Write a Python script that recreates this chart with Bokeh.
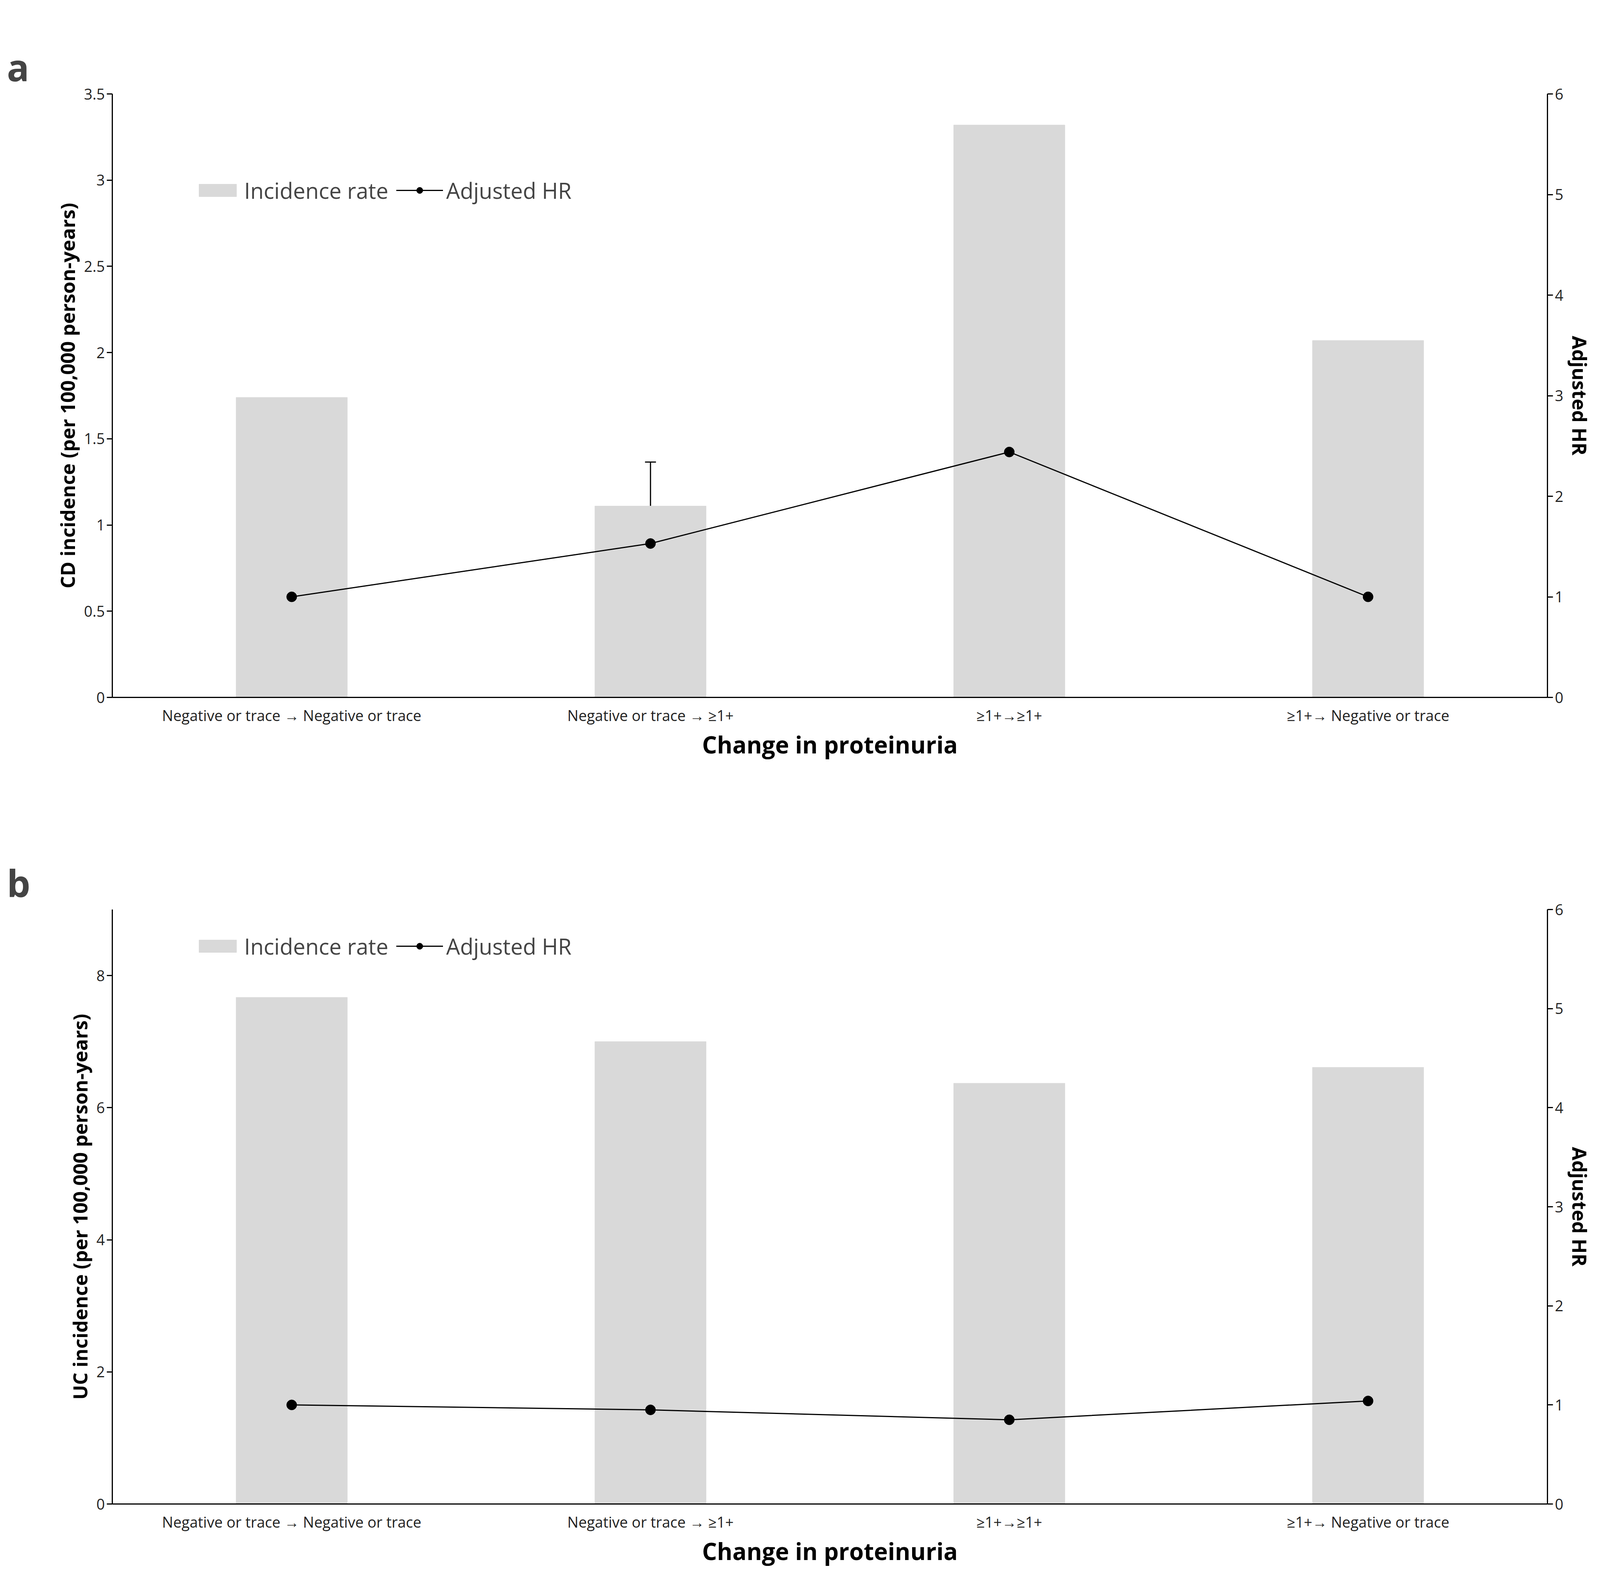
from bokeh.plotting import figure
from bokeh.models import Range1d, LinearAxis, FactorRange, ColumnDataSource, Whisker, TeeHead, Legend, LegendItem
from bokeh.layouts import column
from bokeh.embed import file_html
from bokeh.resources import INLINE
from bokeh.core.properties import value

cats = ["Negative or trace \u2192 Negative or trace", "Negative or trace \u2192 \u22651+", "\u22651+\u2192\u22651+", "\u22651+\u2192 Negative or trace"]
cd_rate = [1.74, 1.11, 3.32, 2.07]
cd_hr = [1.0, 1.53, 2.44, 1.0]
cd_lo = [1.0, 1.01, 1.09, 0.51]
cd_hi = [1.0, 2.34, 5.45, 1.91]
uc_rate = [7.67, 7.0, 6.37, 6.61]
uc_hr = [1.0, 0.95, 0.85, 1.04]
uc_lo = [1.0, 0.75, 0.46, 0.77]
uc_hi = [1.0, 1.22, 1.58, 1.40]

FONT = "Open Sans"

def panel(letter, rate, hr, lo, hi, ymax, ylabel, h, btop, bbot, star, legy):
    p = figure(x_range=FactorRange(*cats, range_padding=0), y_range=Range1d(0, ymax),
               width=4136, height=h, output_backend="svg", toolbar_location=None,
               min_border_left=287, min_border_right=175, min_border_top=btop, min_border_bottom=bbot)
    p.title.text = letter
    p.title.text_font = FONT
    p.title.text_font_size = "95px"
    p.title.text_font_style = "bold"
    p.title.offset = -270
    p.extra_y_ranges = {"hr": Range1d(0, 6)}
    src = ColumnDataSource(dict(c=cats, rate=rate, hr=hr, lo=lo, hi=hi))
    bars = p.vbar(x="c", top="rate", width=0.31, color="#d9d9d9", source=src)
    ln = p.line(x="c", y="hr", line_color="black", line_width=3, y_range_name="hr", source=src)
    pts = p.scatter(x="c", y="hr", size=26, color="black", y_range_name="hr", source=src)
    w = Whisker(base="c", lower="lo", upper="hi", source=src, y_range_name="hr", line_width=3,
                upper_head=TeeHead(size=28, line_width=3), lower_head=TeeHead(size=28, line_width=3))
    p.add_layout(w)
    if star:
        p.text(x=[cats[2]], y=[3.42], text=["*"], text_font=value(FONT), text_font_size="80px",
               text_align="center", text_baseline="bottom")
    leg = Legend(items=[LegendItem(label="Incidence rate", renderers=[bars]),
                        LegendItem(label="Adjusted HR", renderers=[ln, pts])],
                 orientation="horizontal", location=(200, legy), border_line_alpha=0,
                 background_fill_alpha=0, label_text_font=FONT, label_text_font_size="56px",
                 glyph_width=120, glyph_height=40, spacing=20, label_standoff=8)
    p.add_layout(leg)
    ra = LinearAxis(y_range_name="hr", axis_label="Adjusted HR")
    p.add_layout(ra, "right")
    p.yaxis[0].axis_label = ylabel
    p.xaxis.axis_label = "Change in proteinuria"
    for ax in p.xaxis + p.yaxis:
        ax.axis_line_color = "black"
        ax.axis_line_width = 3
        ax.major_tick_line_color = "black"
        ax.major_tick_line_width = 3
        ax.minor_tick_line_color = None
        ax.major_tick_in = 0
        ax.major_tick_out = 14
        ax.major_label_text_font = FONT
        ax.major_label_text_font_size = "38px"
        ax.major_label_text_color = "#222222"
        ax.axis_label_text_font = FONT
        ax.axis_label_text_font_size = "50px"
        ax.axis_label_text_font_style = "bold"
        ax.axis_label_text_color = "black"
    p.xaxis.axis_label_text_font_size = "60px"
    p.xaxis.major_tick_line_color = None
    p.xgrid.grid_line_color = None
    p.ygrid.grid_line_color = None
    p.outline_line_color = None
    return p

pa = panel("a", cd_rate, cd_hr, cd_lo, cd_hi, 3.5, "CD incidence (per 100,000 person-years)", 2030, 240, 245, True, 1250)
pa.yaxis[0].ticker = [0, 0.5, 1, 1.5, 2, 2.5, 3, 3.5]
pb = panel("b", uc_rate, uc_hr, uc_lo, uc_hi, 9, "UC incidence (per 100,000 person-years)", 2010, 298, 190, False, 1380)
page = column(pa, pb, spacing=0)
open("out.html", "w").write(file_html(page, INLINE))
